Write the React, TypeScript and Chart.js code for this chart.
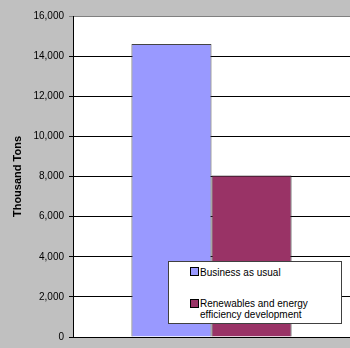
import React, { useEffect, useRef } from "react";
import { Chart, registerables } from "chart.js";

Chart.register(...registerables);

const categories = [""];
const seriesNames = ["Business as usual", "Renewables and energy efficiency development"];
const businessAsUsual = [14600];
const renewables = [8050];
const yTicks = [0, 2000, 4000, 6000, 8000, 10000, 12000, 14000, 16000];
const colors = ["#9999FF", "#993366"];

const FONT = "'Liberation Sans', Arial, sans-serif";

export default function App() {
  const ref = useRef<HTMLCanvasElement | null>(null);

  useEffect(() => {
    document.body.style.margin = "0";
    const bg = {
      id: "bg",
      beforeDraw(chart: any) {
        const { ctx, chartArea } = chart;
        ctx.save();
        ctx.fillStyle = "#C0C0C0";
        ctx.fillRect(0, 0, chart.width, chart.height);
        ctx.fillStyle = "#FFFFFF";
        ctx.fillRect(chartArea.left, chartArea.top, chartArea.right - chartArea.left, chartArea.bottom - chartArea.top);
        ctx.restore();
      },
    };
    const chart = new Chart(ref.current!, {
      type: "bar",
      data: {
        labels: categories,
        datasets: [
          {
            label: seriesNames[0],
            data: businessAsUsual,
            backgroundColor: colors[0],
            borderColor: "#444444",
            borderWidth: 1,
          },
          {
            label: seriesNames[1],
            data: renewables,
            backgroundColor: colors[1],
            borderColor: "#222222",
            borderWidth: 1,
          },
        ],
      },
      options: {
        animation: false,
        responsive: false,
        maintainAspectRatio: false,
        layout: { padding: { left: 0, right: 0, top: 16, bottom: 7 } },
        plugins: { legend: { display: false }, tooltip: { enabled: false } },
        datasets: { bar: { categoryPercentage: 0.578, barPercentage: 1 } },
        scales: {
          x: {
            grid: { display: false },
            ticks: { display: false },
            border: { display: true, color: "#000000", width: 1 },
            afterFit(scale: any) {
              scale.height = 0;
            },
          },
          y: {
            min: 0,
            max: 16000,
            afterBuildTicks(scale: any) {
              scale.ticks = yTicks.map((v) => ({ value: v }));
            },
            afterFit(scale: any) {
              scale.width = 73;
            },
            ticks: {
              color: "#000000",
              font: { family: FONT, size: 10 },
              padding: 5,
              callback: (v: any) => Number(v).toLocaleString("en-US"),
            },
            grid: {
              color: (c: any) => (c.tick && c.tick.value === 16000 ? "#808080" : "#000000"),
              lineWidth: 1,
              tickLength: 4,
            },
            border: { display: true, color: "#000000", width: 1 },
            title: {
              display: true,
              text: "Thousand Tons",
              color: "#000000",
              font: { family: FONT, size: 11, weight: "bold" },
              padding: { top: 11, bottom: 0 },
            },
          },
        },
      },
      plugins: [bg],
    });
    return () => chart.destroy();
  }, []);

  const legendText: React.CSSProperties = {
    fontFamily: FONT,
    fontSize: 10,
    lineHeight: "11px",
    color: "#000",
    whiteSpace: "nowrap",
    textAlign: "left",
  };
  const swatch = (c: string): React.CSSProperties => ({
    position: "absolute",
    left: 21,
    width: 7,
    height: 7,
    background: c,
    border: "1px solid #000",
  });

  return (
    <div style={{ position: "relative", width: 350, height: 348 }}>
      <canvas ref={ref} width={350} height={348} style={{ display: "block" }} />
      <div
        style={{
          position: "absolute",
          left: 168,
          top: 261,
          width: 172,
          height: 61,
          background: "#fff",
          border: "1px solid #404040",
        }}
      >
        <div style={{ ...swatch(colors[0]), top: 5 }} />
        <div style={{ ...legendText, position: "absolute", left: 31, top: 5 }}>{seriesNames[0]}</div>
        <div style={{ ...swatch(colors[1]), top: 37 }} />
        <div style={{ ...legendText, position: "absolute", left: 31, top: 36 }}>
          Renewables and energy
          <br />
          efficiency development
        </div>
      </div>
    </div>
  );
}
